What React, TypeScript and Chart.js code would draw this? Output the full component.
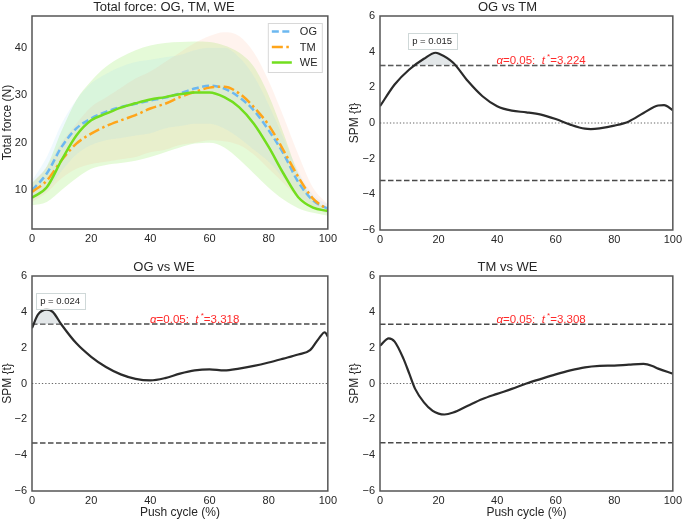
import React, { useEffect, useRef } from "react";
import { Chart, registerables } from "chart.js";

Chart.register(...registerables);

const FONT = "'Liberation Sans', Arial, Helvetica, sans-serif";
const TEXT = "#262626";

// ---------- ticks ----------
const X_TICKS = [0, 20, 40, 60, 80, 100];
const FORCE_TICKS = [10, 20, 30, 40];
const SPM_TICKS = [-6, -4, -2, 0, 2, 4, 6];

// ---------- total force (mean ± SD) ----------
const FORCE_X = [0, 5, 10, 15, 20, 25, 30, 35, 40, 45, 50, 55, 60, 65, 70, 75, 80, 85, 90, 95, 100];
const OG_MEAN = [10.0, 13.5, 19.1, 23.0, 25.1, 26.5, 27.5, 28.2, 28.9, 29.5, 30.4, 31.4, 32.0, 31.4, 29.6, 26.8, 22.6, 17.7, 11.7, 7.8, 6.1];
const OG_UPPER = [12, 17, 24, 29, 32.5, 34.5, 36, 37, 37.5, 38, 38.5, 39.5, 40, 40, 38, 34, 28, 21, 14, 9, 7];
const OG_LOWER = [8, 10, 14, 17.5, 19.5, 20.5, 21, 21.5, 22, 23, 23.5, 24, 24, 23, 21, 18.5, 16, 12.5, 9, 6.5, 5];
const TM_MEAN = [9.6, 12.0, 16.3, 19.8, 21.9, 23.5, 24.7, 25.8, 27.2, 28.2, 29.6, 30.7, 31.6, 31.8, 30.4, 27.5, 23.7, 18.4, 12.8, 8.2, 5.9];
const TM_UPPER = [11.5, 15, 20, 24, 27.5, 29.5, 31.5, 33.5, 35, 37, 39, 41, 42.5, 43.3, 42.5, 39, 33, 25.5, 17.5, 10.5, 7];
const TM_LOWER = [7.5, 9.5, 12.5, 14.5, 15.5, 16, 16.5, 17, 18, 18.5, 19.5, 20, 20.5, 20.3, 19.5, 17.5, 14.5, 11.5, 8.5, 6.5, 5];
const WE_MEAN = [8.4, 10.6, 16.3, 21.5, 24.7, 26.1, 27.4, 28.3, 29.1, 29.6, 30.2, 30.6, 30.6, 29.6, 27.5, 24.0, 19.1, 13.5, 8.5, 6.3, 5.6];
const WE_UPPER = [11.5, 15, 22.5, 29, 33, 36, 38, 39.5, 40.5, 41, 41.2, 41.3, 41.2, 40.5, 39, 36, 30, 22, 13.5, 8, 6.3];
const WE_LOWER = [6.8, 7.5, 10, 12.5, 14.5, 15.3, 15.7, 16.2, 17, 18, 19, 19.8, 20, 19, 16.5, 13.5, 10.5, 8, 6.2, 5.2, 4.6];

// ---------- SPM t curves ----------
const OG_TM_X = [0, 5, 10, 15, 19, 20, 25, 30, 35, 40, 45, 50, 55, 60, 65, 70, 72, 75, 80, 85, 90, 95, 97, 100];
const OG_TM_T = [0.94, 2.16, 3.0, 3.6, 3.94, 3.9, 3.38, 2.35, 1.5, 0.94, 0.69, 0.6, 0.47, 0.22, -0.09, -0.32, -0.34, -0.3, -0.15, 0.09, 0.56, 0.98, 1.0, 0.71];
const OG_WE_X = [0, 2, 5, 7, 10, 15, 20, 25, 30, 35, 40, 45, 50, 55, 60, 65, 70, 75, 80, 85, 90, 94, 97, 99, 100];
const OG_WE_T = [3.09, 3.84, 4.12, 4.0, 3.28, 2.24, 1.49, 0.92, 0.51, 0.26, 0.17, 0.3, 0.55, 0.73, 0.79, 0.73, 0.83, 0.98, 1.17, 1.39, 1.62, 1.86, 2.52, 2.86, 2.62];
const TM_WE_X = [0, 3, 5, 8, 10, 12, 15, 18, 20, 22, 25, 30, 35, 40, 45, 50, 55, 60, 65, 70, 75, 80, 85, 90, 93, 95, 100];
const TM_WE_T = [2.11, 2.52, 2.34, 1.39, 0.55, -0.3, -1.05, -1.53, -1.68, -1.73, -1.62, -1.24, -0.87, -0.58, -0.3, 0, 0.26, 0.51, 0.73, 0.9, 0.98, 1.0, 1.05, 1.09, 0.98, 0.83, 0.55];

const T_CRIT_OG_TM = 3.224;
const T_CRIT_OG_WE = 3.318;
const T_CRIT_TM_WE = 3.308;
const P_OG_TM = "p = 0.015";
const P_OG_WE = "p = 0.024";

// ---------- colours ----------
const OG_COLOR = "#6cb8f0";
const TM_COLOR = "#ffa51a";
const WE_COLOR = "#72de1e";

const pts = (xs: number[], ys: number[]) => xs.map((x, i) => ({ x, y: ys[i] }));
const fmt = (v: number) => (v < 0 ? "\u2212" + Math.abs(v) : String(v));

// ---------- plugins ----------
const framePlugin = {
  id: "frame",
  afterDraw(chart: any) {
    const { ctx, chartArea: a } = chart;
    ctx.save();
    ctx.strokeStyle = "#555555";
    ctx.lineWidth = 1.5;
    ctx.strokeRect(a.left, a.top, a.right - a.left, a.bottom - a.top);
    ctx.restore();
  },
};

const legendItems = [
  { label: "OG", color: OG_COLOR, dash: [7, 3.5] },
  { label: "TM", color: TM_COLOR, dash: [11, 3.5, 2.5, 3.5] },
  { label: "WE", color: WE_COLOR, dash: [] as number[] },
];

const legendPlugin = {
  id: "customLegend",
  afterDraw(chart: any) {
    const { ctx, chartArea: a } = chart;
    const w = 54;
    const h = 49;
    const left = a.right - 60;
    const top = a.top + 7;
    ctx.save();
    ctx.fillStyle = "rgba(255,255,255,0.85)";
    ctx.fillRect(left, top, w, h);
    ctx.strokeStyle = "#d8d8d8";
    ctx.lineWidth = 1;
    ctx.strokeRect(left + 0.5, top + 0.5, w, h);
    legendItems.forEach((it, i) => {
      const y = top + 8.5 + i * 15.5;
      ctx.beginPath();
      ctx.setLineDash(it.dash);
      ctx.strokeStyle = it.color;
      ctx.lineWidth = 2.5;
      ctx.moveTo(left + 4, y);
      ctx.lineTo(left + 24, y);
      ctx.stroke();
      ctx.setLineDash([]);
      ctx.fillStyle = TEXT;
      ctx.font = `11px ${FONT}`;
      ctx.textBaseline = "middle";
      ctx.textAlign = "left";
      ctx.fillText(it.label, left + 32, y + 0.5);
    });
    ctx.restore();
  },
};

const spmPlugin = {
  id: "spmAnnot",
  afterDatasetsDraw(chart: any, _args: any, opts: any) {
    const { ctx } = chart;
    const xs = chart.scales.x;
    const ys = chart.scales.y;
    const size = 11.5;
    const t = opts.tStar as number;
    const parts = [
      { s: "\u03b1", f: `italic ${size}px ${FONT}`, dy: 0 },
      { s: "=0.05:  ", f: `${size}px ${FONT}`, dy: 0 },
      { s: "t", f: `italic ${size}px ${FONT}`, dy: 0 },
      { s: " *", f: `${size * 0.7}px ${FONT}`, dy: -size * 0.42 },
      { s: "=" + t.toFixed(3), f: `${size}px ${FONT}`, dy: 0 },
    ];
    ctx.save();
    ctx.fillStyle = "#ff2a2a";
    ctx.textBaseline = "alphabetic";
    ctx.textAlign = "left";
    let total = 0;
    const widths = parts.map((p) => {
      ctx.font = p.f;
      const w = ctx.measureText(p.s).width;
      total += w;
      return w;
    });
    let x = xs.getPixelForValue(55) - total / 2;
    const baseY = ys.getPixelForValue(t) - 1.5;
    parts.forEach((p, i) => {
      ctx.font = p.f;
      ctx.fillText(p.s, x, baseY + p.dy);
      x += widths[i];
    });

    if (opts.pText) {
      const cx = xs.getPixelForValue(opts.pX);
      const cy = ys.getPixelForValue(opts.pY);
      ctx.font = `9.5px ${FONT}`;
      const tw = ctx.measureText(opts.pText).width;
      const bw = tw + 9;
      const bh = 16;
      ctx.fillStyle = "#ffffff";
      ctx.fillRect(cx - bw / 2, cy - bh / 2, bw, bh);
      ctx.strokeStyle = "#cfd8d8";
      ctx.lineWidth = 1;
      ctx.strokeRect(Math.round(cx - bw / 2) + 0.5, Math.round(cy - bh / 2) + 0.5, Math.round(bw), bh);
      ctx.fillStyle = TEXT;
      ctx.textAlign = "center";
      ctx.textBaseline = "middle";
      ctx.fillText(opts.pText, cx, cy + 0.5);
    }
    ctx.restore();
  },
};

// ---------- option builder ----------
type Layout = {
  title: string;
  yMin: number;
  yMax: number;
  yTicks: number[];
  yTitle: string;
  xTitle?: string;
  yWidth: number;
  xHeight: number;
  padRight: number;
  yTitlePad: number;
};

function baseOptions(L: Layout, extraPlugins: any = {}) {
  return {
    responsive: false,
    animation: false,
    devicePixelRatio: 1,
    layout: { padding: { left: 0, right: L.padRight, top: 0, bottom: 0 } },
    elements: { point: { radius: 0, hoverRadius: 0 } },
    plugins: {
      legend: { display: false },
      tooltip: { enabled: false },
      title: {
        display: true,
        text: L.title,
        color: TEXT,
        font: { family: FONT, size: 13, weight: "normal" },
        padding: { top: 0, bottom: 0.4 },
      },
      ...extraPlugins,
    },
    scales: {
      x: {
        type: "linear",
        min: 0,
        max: 100,
        afterBuildTicks: (s: any) => {
          s.ticks = X_TICKS.map((v) => ({ value: v }));
        },
        afterFit: (s: any) => {
          s.height = L.xHeight;
        },
        grid: { display: false, drawTicks: false },
        border: { display: false },
        ticks: {
          color: TEXT,
          padding: 3,
          maxRotation: 0,
          autoSkip: false,
          font: { family: FONT, size: 11 },
          callback: (v: any) => fmt(Number(v)),
        },
        title: L.xTitle
          ? {
              display: true,
              text: L.xTitle,
              color: TEXT,
              font: { family: FONT, size: 12 },
              padding: { top: 0, bottom: 1 },
            }
          : { display: false },
      },
      y: {
        type: "linear",
        min: L.yMin,
        max: L.yMax,
        afterBuildTicks: (s: any) => {
          s.ticks = L.yTicks.map((v) => ({ value: v }));
        },
        afterFit: (s: any) => {
          s.width = L.yWidth;
        },
        grid: { display: false, drawTicks: false },
        border: { display: false },
        ticks: {
          color: TEXT,
          padding: 5,
          autoSkip: false,
          font: { family: FONT, size: 11 },
          callback: (v: any) => fmt(Number(v)),
        },
        title: {
          display: true,
          text: L.yTitle,
          color: TEXT,
          font: { family: FONT, size: 12 },
          padding: { top: L.yTitlePad, bottom: 0 },
        },
      },
    },
  };
}

function forceConfig() {
  const band = (upper: number[], lower: number[], color: string) => [
    {
      data: pts(FORCE_X, upper),
      borderWidth: 0,
      borderColor: "transparent",
      backgroundColor: color,
      fill: "+1",
      cubicInterpolationMode: "monotone",
      order: 5,
    },
    {
      data: pts(FORCE_X, lower),
      borderWidth: 0,
      borderColor: "transparent",
      fill: false,
      cubicInterpolationMode: "monotone",
      order: 5,
    },
  ];
  return {
    type: "line",
    data: {
      datasets: [
        ...band(OG_UPPER, OG_LOWER, "rgba(135,206,250,0.12)"),
        ...band(TM_UPPER, TM_LOWER, "rgba(255,165,125,0.13)"),
        ...band(WE_UPPER, WE_LOWER, "rgba(124,230,60,0.2)"),
        {
          label: "OG",
          data: pts(FORCE_X, OG_MEAN),
          borderColor: OG_COLOR,
          borderWidth: 2.5,
          borderDash: [7, 3.5],
          fill: false,
          cubicInterpolationMode: "monotone",
          order: 2,
        },
        {
          label: "TM",
          data: pts(FORCE_X, TM_MEAN),
          borderColor: TM_COLOR,
          borderWidth: 2.5,
          borderDash: [11, 3.5, 2.5, 3.5],
          fill: false,
          cubicInterpolationMode: "monotone",
          order: 1,
        },
        {
          label: "WE",
          data: pts(FORCE_X, WE_MEAN),
          borderColor: WE_COLOR,
          borderWidth: 2.5,
          fill: false,
          cubicInterpolationMode: "monotone",
          order: 0,
        },
      ],
    },
    options: baseOptions({
      title: "Total force: OG, TM, WE",
      yMin: 1.8,
      yMax: 46.7,
      yTicks: FORCE_TICKS,
      yTitle: "Total force (N)",
      yWidth: 32,
      xHeight: 31,
      padRight: 12,
      yTitlePad: 0,
    }),
    plugins: [framePlugin, legendPlugin],
  };
}

function spmConfig(
  title: string,
  xs: number[],
  ts: number[],
  tStar: number,
  left: boolean,
  xTitle: string | undefined,
  xHeight: number,
  p?: { text: string; x: number; y: number }
) {
  const flat = (v: number) => [
    { x: 0, y: v },
    { x: 100, y: v },
  ];
  return {
    type: "line",
    data: {
      datasets: [
        {
          label: "SPM",
          data: pts(xs, ts),
          borderColor: "#2b2b2b",
          borderWidth: 2.2,
          cubicInterpolationMode: "monotone",
          fill: p
            ? { target: { value: tStar }, above: "rgba(200,208,212,0.5)", below: "rgba(0,0,0,0)" }
            : false,
          order: 0,
        },
        {
          label: "t*",
          data: flat(tStar),
          borderColor: "#4a4a4a",
          borderWidth: 1.4,
          borderDash: [5.5, 2.5],
          fill: false,
          order: 1,
        },
        {
          label: "-t*",
          data: flat(-tStar),
          borderColor: "#4a4a4a",
          borderWidth: 1.4,
          borderDash: [5.5, 2.5],
          fill: false,
          order: 1,
        },
        {
          label: "zero",
          data: flat(0),
          borderColor: "#666666",
          borderWidth: 1.2,
          borderDash: [1.3, 2],
          fill: false,
          order: 2,
        },
      ],
    },
    options: baseOptions(
      {
        title,
        yMin: -6,
        yMax: 6,
        yTicks: SPM_TICKS,
        yTitle: "SPM {t}",
        xTitle,
        yWidth: left ? 32 : 40,
        xHeight,
        padRight: left ? 12 : 10,
        yTitlePad: left ? 0 : 7.8,
      },
      {
        spmAnnot: { tStar, pText: p?.text, pX: p?.x, pY: p?.y },
      }
    ),
    plugins: [framePlugin, spmPlugin],
  };
}

function ChartCanvas(props: { left: number; top: number; width: number; height: number; make: () => any }) {
  const ref = useRef<HTMLCanvasElement>(null);
  useEffect(() => {
    const chart = new Chart(ref.current as HTMLCanvasElement, props.make());
    return () => chart.destroy();
  }, []);
  return (
    <canvas
      ref={ref}
      width={props.width}
      height={props.height}
      style={{ position: "absolute", left: props.left, top: props.top, width: props.width, height: props.height }}
    />
  );
}

export default function App() {
  return (
    <div style={{ position: "fixed", left: 0, top: 0, width: 685, height: 521, background: "#ffffff", overflow: "hidden" }}>
      <ChartCanvas left={0} top={0} width={340} height={260} make={forceConfig} />
      <ChartCanvas
        left={340}
        top={0}
        width={345}
        height={260}
        make={() => spmConfig("OG vs TM", OG_TM_X, OG_TM_T, T_CRIT_OG_TM, false, undefined, 30, { text: P_OG_TM, x: 17.8, y: 4.6 })}
      />
      <ChartCanvas
        left={0}
        top={260}
        width={340}
        height={261}
        make={() => spmConfig("OG vs WE", OG_WE_X, OG_WE_T, T_CRIT_OG_WE, true, "Push cycle (%)", 30, { text: P_OG_WE, x: 9.5, y: 4.63 })}
      />
      <ChartCanvas
        left={340}
        top={260}
        width={345}
        height={261}
        make={() => spmConfig("TM vs WE", TM_WE_X, TM_WE_T, T_CRIT_TM_WE, false, "Push cycle (%)", 30)}
      />
    </div>
  );
}
